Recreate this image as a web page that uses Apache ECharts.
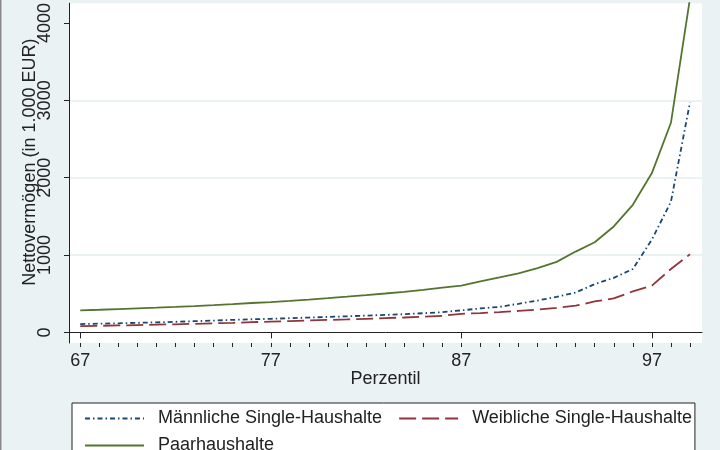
<!DOCTYPE html>
<html>
<head>
<meta charset="utf-8">
<script src="https://cdn.jsdelivr.net/npm/echarts@6/dist/echarts.min.js"></script>
<style>
  html, body { margin: 0; padding: 0; background: #eaf2f3; }
  #chart { width: 720px; height: 450px; }
</style>
</head>
<body>
<div id="chart"></div>
<script>
// Perzentile 67..99
var perzentil = [67, 68, 69, 70, 71, 72, 73, 74, 75, 76, 77, 78, 79, 80, 81, 82, 83,
  84, 85, 86, 87, 88, 89, 90, 91, 92, 93, 94, 95, 96, 97, 98, 99];

// Nettovermögen in 1.000 EUR
var maennlich = [108, 113, 118, 124, 130, 137, 145, 153, 162, 170, 176, 184, 192, 200, 208, 217,
  226, 236, 248, 262, 285, 310, 330, 370, 412, 460, 515, 625, 705, 820, 1200, 1690, 2975];
var weiblich = [80, 85, 90, 95, 100, 105, 111, 117, 124, 132, 140, 147, 154, 161, 168, 176,
  184, 193, 203, 215, 240, 250, 262, 278, 296, 318, 345, 400, 440, 530, 605, 820, 1010];
var paar = [285, 293, 302, 311, 320, 330, 341, 353, 366, 380, 392, 408, 425, 443, 462, 482,
  503, 525, 550, 578, 606, 660, 710, 762, 830, 912, 1045, 1165, 1370, 1650, 2060, 2710, 4320];

var xLabels = [67, 77, 87, 97];
var yLabels = [0, 1000, 2000, 3000, 4000];

var textColor = '#222';
var font = 'Liberation Sans, Arial, sans-serif';

function pairs(vals) {
  return perzentil.map(function (p, i) { return [p, vals[i]]; });
}

var myChart = echarts.init(document.getElementById('chart'));

var option = {
  backgroundColor: '#eaf2f3',
  animation: false,
  textStyle: { fontFamily: font, color: textColor },
  graphic: [{
    type: 'rect', left: 0, top: 0, shape: { width: 1.5, height: 450 },
    style: { fill: '#8a8a8a' }
  }],
  grid: {
    left: 69, right: 18, top: 0, bottom: 107,
    show: true, backgroundColor: '#fff', borderWidth: 0
  },
  xAxis: [{
    type: 'value',
    position: 'bottom',
    min: 66.41, max: 99.63,
    name: 'Perzentil',
    nameLocation: 'middle',
    nameGap: 27,
    nameMoveOverlap: false,
    nameTextStyle: { fontSize: 18, color: textColor, fontFamily: font },
    axisLine: { show: true, lineStyle: { color: textColor, width: 1 } },
    axisTick: { show: true, customValues: xLabels, length: 6, lineStyle: { color: textColor } },
    axisLabel: {
      customValues: xLabels, fontSize: 18, color: textColor, margin: 9, fontFamily: font,
      formatter: function (v) { return String(v); }
    },
    splitLine: { show: false }
  }, {
    type: 'value',
    position: 'bottom',
    min: 66.41, max: 99.63,
    axisLine: { show: false },
    axisTick: { show: true, customValues: perzentil, length: 4, lineStyle: { color: textColor } },
    axisLabel: { show: false },
    splitLine: { show: false }
  }],
  yAxis: {
    type: 'value',
    min: -137, max: 4256,
    splitNumber: 5,
    name: 'Nettovermögen (in 1.000 EUR)',
    nameLocation: 'middle',
    nameGap: 30,
    nameMoveOverlap: false,
    nameTextStyle: { fontSize: 18, color: textColor, fontFamily: font, padding: [0, 0, 0, 22] },
    axisLine: { show: true, lineStyle: { color: textColor, width: 1 } },
    axisTick: { show: true, customValues: yLabels, length: 5, lineStyle: { color: textColor } },
    axisLabel: {
      customValues: yLabels, rotate: 90, fontSize: 18, color: textColor, margin: 15, fontFamily: font,
      formatter: function (v) { return String(v); }
    },
    splitLine: { show: true, showMinLine: false, showMaxLine: false, lineStyle: { color: '#eaf2f3', width: 2 } }
  },
  legend: {
    left: 72, top: 403, width: 640,
    orient: 'horizontal',
    backgroundColor: '#fff',
    borderColor: '#222', borderWidth: 1,
    padding: [2, 3, 20, 12],
    itemGap: 0,
    itemWidth: 59, itemHeight: 2,
    itemStyle: { opacity: 0 },
    textStyle: { fontSize: 18, color: textColor, lineHeight: 27, padding: [0, 16, 0, 9], fontFamily: font },
    data: [
      { name: 'Männliche Single-Haushalte' },
      { name: 'Weibliche Single-Haushalte', textStyle: { padding: [0, 0, 0, 9] } },
      { name: 'Paarhaushalte' }
    ]
  },
  series: [{
    name: 'Männliche Single-Haushalte',
    type: 'line',
    data: pairs(maennlich),
    symbol: 'none',
    lineStyle: { color: '#1a476f', width: 1.8, type: [5, 3, 1.5, 3] },
    itemStyle: { color: '#1a476f' }
  }, {
    name: 'Weibliche Single-Haushalte',
    type: 'line',
    data: pairs(weiblich),
    symbol: 'none',
    lineStyle: { color: '#90353b', width: 1.8, type: [17, 6] },
    itemStyle: { color: '#90353b' }
  }, {
    name: 'Paarhaushalte',
    type: 'line',
    data: pairs(paar),
    symbol: 'none',
    lineStyle: { color: '#55752f', width: 1.8, type: 'solid' },
    itemStyle: { color: '#55752f' }
  }]
};

myChart.setOption(option);
</script>
</body>
</html>
